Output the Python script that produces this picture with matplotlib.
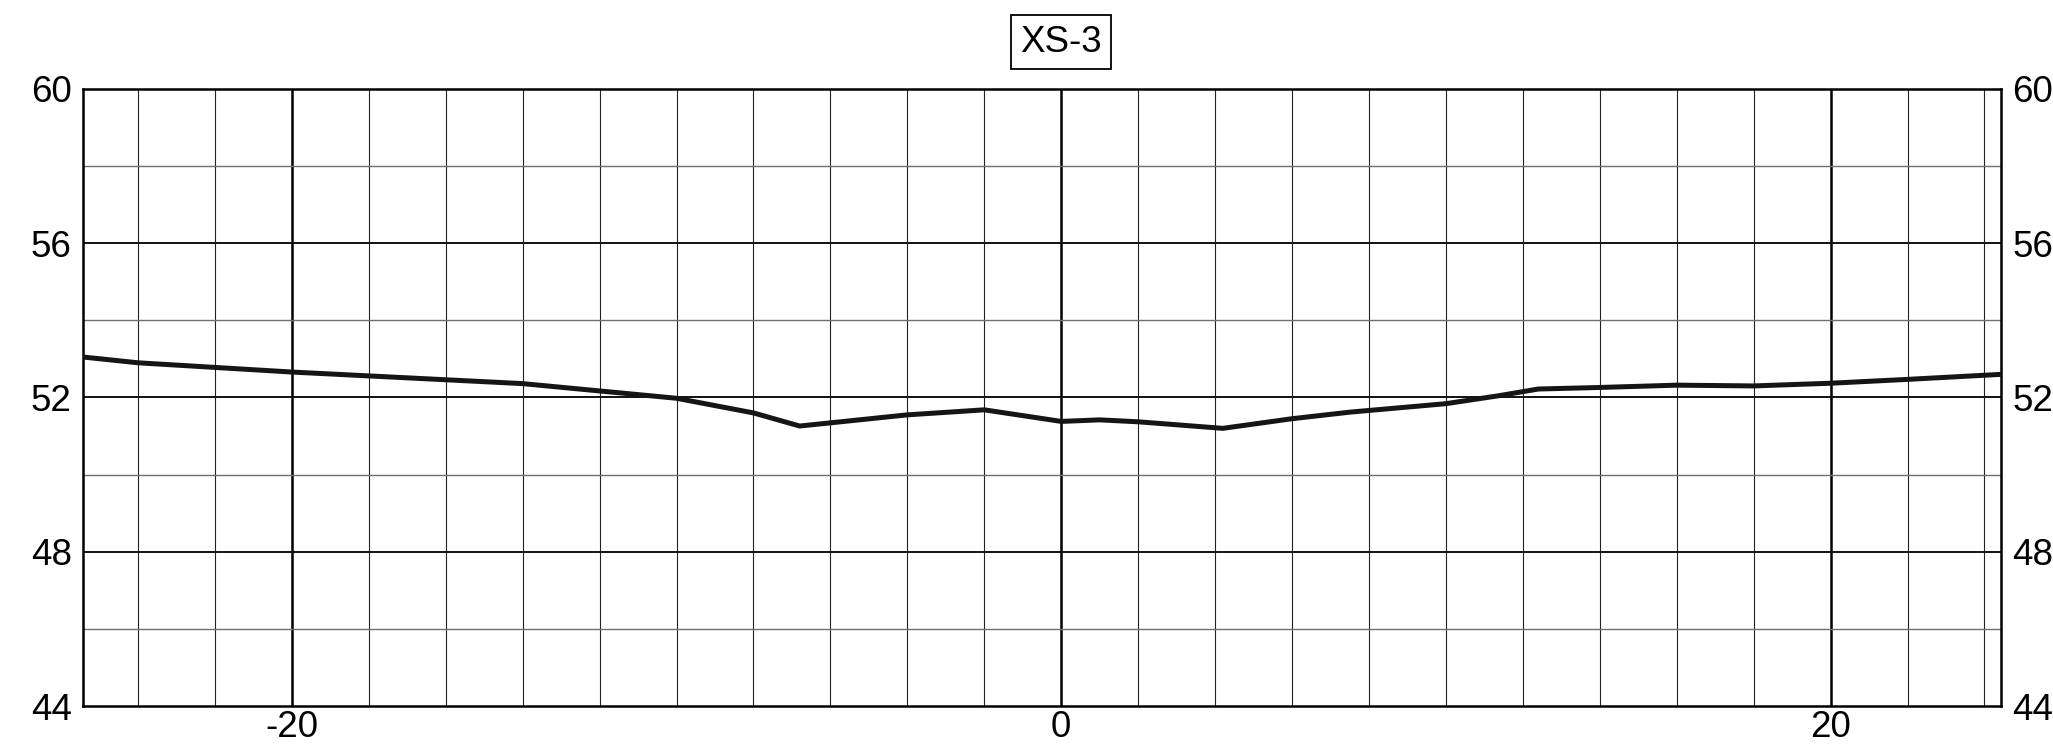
import matplotlib
matplotlib.use("Agg")
import matplotlib.pyplot as plt
from matplotlib.transforms import blended_transform_factory

# ---- data ----
title = "XS-3"
x_vals = [-25.43, -24, -20, -14, -10, -8, -6.8, -4, -2, 0, 1, 2, 4.2, 6, 7.5,
          10, 11.4, 12.4, 14, 16, 18, 20, 22, 24.43]
y_vals = [53.05, 52.9, 52.66, 52.36, 51.98, 51.6, 51.26, 51.55, 51.68, 51.38, 51.42, 51.37, 51.2, 51.45, 51.62,
          51.84, 52.05, 52.22, 52.26, 52.32, 52.3, 52.37, 52.47, 52.6]
x_ticks = [-20, 0, 20]
x_tick_labels = ["-20", "0", "20"]
y_ticks = [44, 48, 52, 56, 60]
y_tick_labels = ["44", "48", "52", "56", "60"]
xlim = (-25.43, 24.43)
ylim = (44, 60)

plt.rcParams['font.family'] = ['Liberation Sans', 'DejaVu Sans']

fig = plt.figure(figsize=(20.53, 7.53), dpi=100)
ax = fig.add_axes([83/2053, 47/753, (2001-83)/2053, (706-89)/753])
ax.set_xlim(*xlim)
ax.set_ylim(*ylim)

# grid
for gx in range(-24, 25, 2):
    major = (gx % 20 == 0)
    ax.axvline(gx, color='black' if major else '#222222', lw=1.8 if major else 0.8, zorder=1)
for gy in range(46, 60, 2):
    major = (gy % 4 == 0)
    ax.axhline(gy, color='#111111' if major else '#6f6f6f', lw=1.4 if major else 1.0, zorder=1)

ax.plot(x_vals, y_vals, color='#151515', lw=3.6, zorder=3)

ax.set_xticks(x_ticks, x_tick_labels)
ax.set_yticks(y_ticks, y_tick_labels)
ax.tick_params(axis='both', length=0, labelsize=26.5)
ax.tick_params(axis='x', pad=3)
ax.tick_params(axis='y', pad=8, left=False, right=False, labelleft=True, labelright=True)
for s in ax.spines.values():
    s.set_linewidth(1.8)
    s.set_color('black')

trans = blended_transform_factory(ax.transData, fig.transFigure)
fig.text(0, 1 - 42/753, title, transform=trans, ha='center', va='center', fontsize=26.5,
         bbox=dict(boxstyle='square,pad=0.25', fc='white', ec='black', lw=1.3))

fig.savefig('out.png', dpi=100)
